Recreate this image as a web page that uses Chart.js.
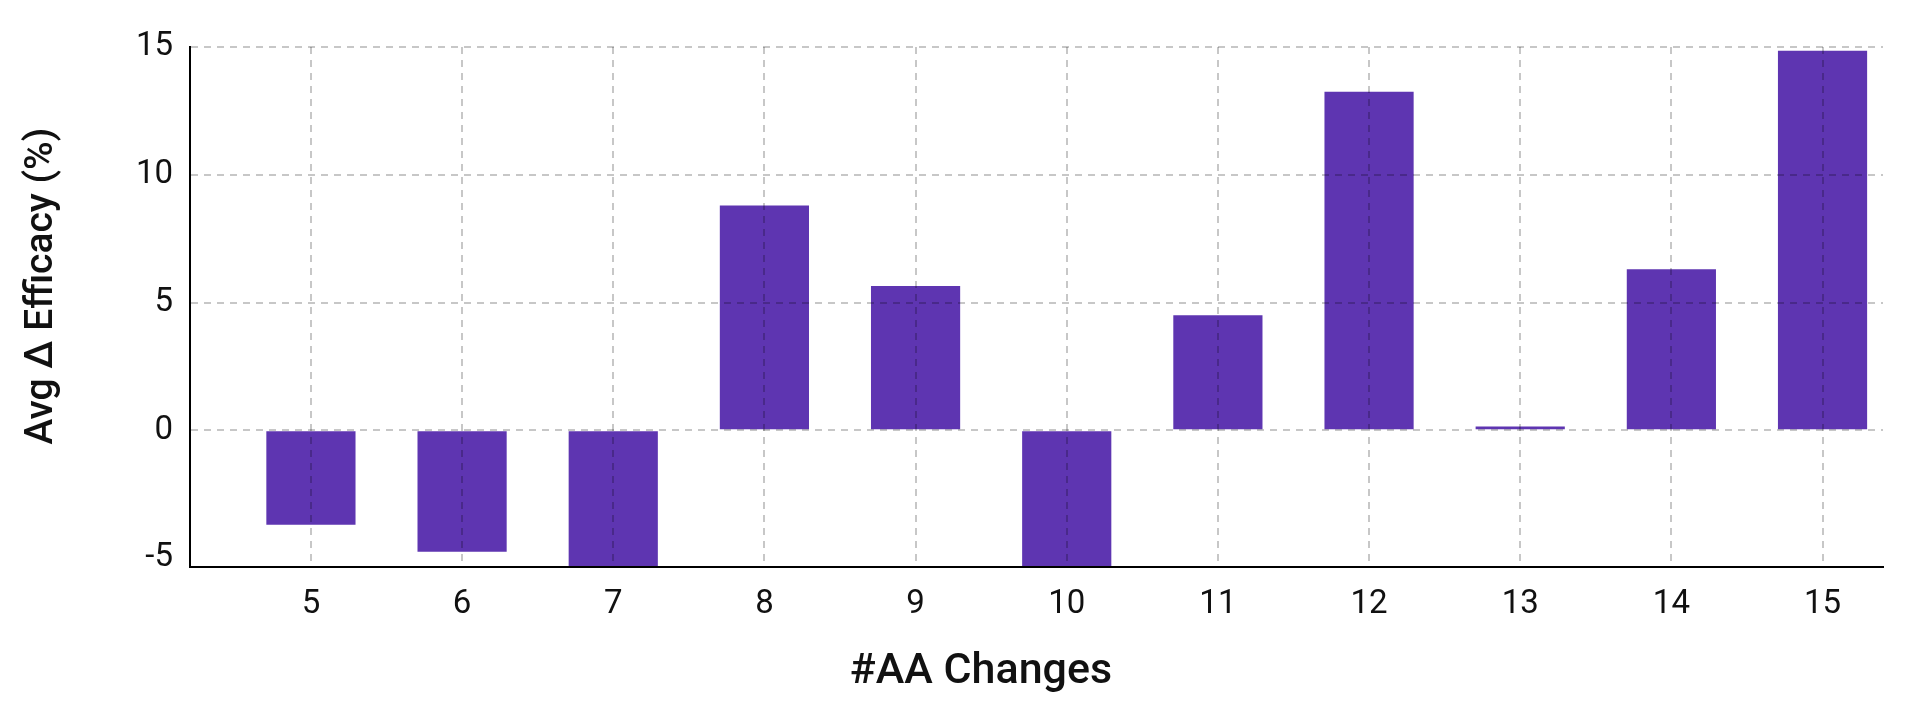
<!DOCTYPE html>
<html>
<head>
<meta charset="utf-8">
<script src="https://cdn.jsdelivr.net/npm/chart.js@4.4.1/dist/chart.umd.min.js"></script>
<style>
  html, body { margin: 0; padding: 0; background: #fff; }
  #wrap { width: 1920px; height: 706px; }
</style>
</head>
<body>
<div id="wrap"><canvas id="grafikEfficacy" width="1920" height="706"></canvas></div>
<script>
// Data chart
const aaChanges = [5, 6, 7, 8, 9, 10, 11, 12, 13, 14, 15];
const avgDeltaEfficacy = [-3.7, -4.75, -5.4, 8.8, 5.65, -5.4, 4.5, 13.25, 0.15, 6.3, 14.85];
const yTickValues = [-5, 0, 5, 10, 15];
const xTitle = '#AA Changes';
const yTitle = 'Avg Δ Efficacy (%)';

const FONT = "Roboto, 'Noto Sans', sans-serif";
const gridColor = 'rgba(0, 0, 0, 0.22)';

// Judul sumbu digambar manual supaya posisinya sama dengan gambar asli
const axisTitles = {
    id: 'axisTitles',
    afterDraw(chart) {
        const c = chart.ctx;
        c.save();
        c.fillStyle = '#111';
        c.textAlign = 'center';
        c.textBaseline = 'alphabetic';

        c.font = `500 43px ${FONT}`;
        c.fillText(xTitle, 981, 683);

        c.translate(52, 286);
        c.rotate(-Math.PI / 2);
        c.font = `500 39px ${FONT}`;
        c.fillText(yTitle, 0, 0);
        c.restore();
    }
};

const ctx = document.getElementById('grafikEfficacy');

new Chart(ctx, {
    type: 'bar',
    data: {
        datasets: [{
            label: 'Avg Δ Efficacy',
            data: aaChanges.map((n, i) => ({ x: n, y: avgDeltaEfficacy[i] })),
            backgroundColor: '#5e35b1',
            borderWidth: 0,
            barPercentage: 0.59,
            categoryPercentage: 1.0
        }]
    },
    options: {
        responsive: false,
        animation: false,
        devicePixelRatio: 1,
        layout: { padding: { top: 47, right: 37, left: 0, bottom: 0 } },
        plugins: {
            legend: { display: false },
            tooltip: { enabled: false }
        },
        scales: {
            x: {
                type: 'linear',
                min: 4.2,
                max: 15.4,
                offset: false,
                afterFit: (scale) => { scale.height = 139; },
                grid: {
                    offset: false,
                    z: 1,
                    color: gridColor,
                    lineWidth: 2,
                    drawTicks: false
                },
                border: { display: true, color: '#000', width: 2, dash: [7, 6], z: 2 },
                ticks: {
                    stepSize: 1,
                    includeBounds: false,
                    padding: 18,
                    color: '#111',
                    font: { family: FONT, size: 33 }
                },
                title: { display: false }
            },
            y: {
                min: -5.35,
                max: 15,
                afterBuildTicks: (scale) => {
                    scale.ticks = yTickValues.map(v => ({ value: v }));
                },
                afterFit: (scale) => { scale.width = 190; },
                grid: {
                    z: 1,
                    color: (c) => (c.tick && c.tick.value === -5) ? 'rgba(0,0,0,0)' : gridColor,
                    lineWidth: 2,
                    drawTicks: false
                },
                border: { display: true, color: '#000', width: 2, dash: [7, 6], z: 2 },
                ticks: {
                    padding: 17,
                    color: '#111',
                    font: { family: FONT, size: 33 }
                },
                title: { display: false }
            }
        }
    },
    plugins: [axisTitles]
});
</script>
</body>
</html>
